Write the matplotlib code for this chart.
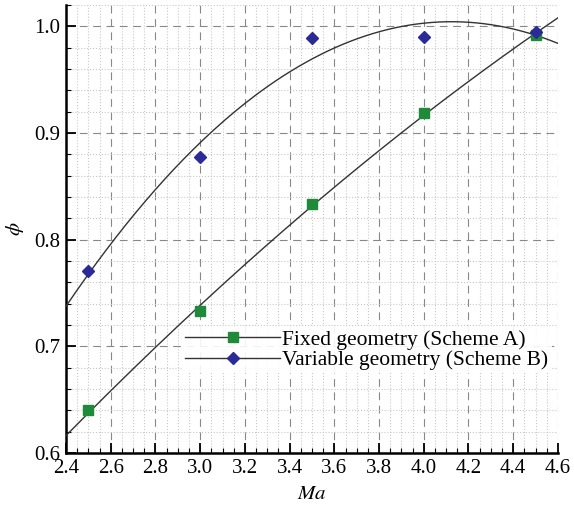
import numpy as np
import matplotlib
matplotlib.use("Agg")
import matplotlib.pyplot as plt
from matplotlib.ticker import MultipleLocator

ma = [2.5, 3.0, 3.5, 4.0, 4.5]
phi_fixed = [0.640, 0.733, 0.834, 0.919, 0.992]
phi_variable = [0.771, 0.878, 0.989, 0.990, 0.995]
xticks = [2.4, 2.6, 2.8, 3.0, 3.2, 3.4, 3.6, 3.8, 4.0, 4.2, 4.4, 4.6]
yticks = [0.6, 0.7, 0.8, 0.9, 1.0]
labels = ["Fixed geometry (Scheme A)", "Variable geometry (Scheme B)"]

plt.rcParams['font.family'] = ['Liberation Serif', 'DejaVu Serif']
plt.rcParams['mathtext.fontset'] = 'stix'

fig = plt.figure(figsize=(5.74, 5.08), dpi=100)
ax = fig.add_axes([0.115, 0.108, 0.857, 0.882])

xs = np.linspace(2.4, 4.6, 200)
cf = np.polyfit(ma, phi_fixed, 2)
cv = np.polyfit(ma, phi_variable, 2)
ax.plot(xs, np.polyval(cf, xs), color='#333333', lw=1.0, zorder=3)
ax.plot(xs, np.polyval(cv, xs), color='#333333', lw=1.0, zorder=3)
ax.plot(ma, phi_fixed, 's', color='#1e8a3a', ms=7.5, zorder=4)
ax.plot(ma, phi_variable, 'D', color='#2b2a96', ms=6.5, zorder=4)

hf, = ax.plot([], [], '-s', color='#333333', mfc='#1e8a3a', mec='#1e8a3a', ms=7.5, lw=1.0)
hv, = ax.plot([], [], '-D', color='#333333', mfc='#2b2a96', mec='#2b2a96', ms=6.5, lw=1.0)
leg = ax.legend([hf, hv], labels, loc='upper left', bbox_to_anchor=(0.214, 0.307),
                fontsize=15.5, frameon=True, facecolor='white', edgecolor='none',
                framealpha=0.9, handlelength=4.4, handletextpad=0.1,
                borderpad=0.15, labelspacing=0.02, markerfirst=True)

ax.set_xlim(2.4, 4.6)
ax.set_ylim(0.6, 1.02)
ax.set_xticks(xticks)
ax.set_yticks(yticks)
ax.xaxis.set_minor_locator(MultipleLocator(0.05))
ax.yaxis.set_minor_locator(MultipleLocator(0.02))
ax.grid(which='minor', color='#c8c8c8', linestyle=':', lw=0.8)
ax.grid(which='major', color='#888888', linestyle=(0, (7, 5)), lw=0.8)
ax.set_axisbelow(True)

ax.tick_params(which='major', direction='in', length=7, width=1.3, labelsize=15,
               top=False, right=False, pad=4)
ax.tick_params(which='minor', direction='in', length=3.5, width=0.8, top=False, right=False)
ax.set_xticklabels([f"{v:.1f}" for v in xticks])
ax.set_yticklabels([f"{v:.1f}" for v in yticks])

for s in ['top', 'right']:
    ax.spines[s].set_visible(False)
for s in ['left', 'bottom']:
    ax.spines[s].set_linewidth(1.8)

ax.set_xlabel('$Ma$', fontsize=15, labelpad=5)
ax.set_ylabel(r'$\phi$', fontsize=15, labelpad=6)

fig.savefig('out.png', dpi=100)
